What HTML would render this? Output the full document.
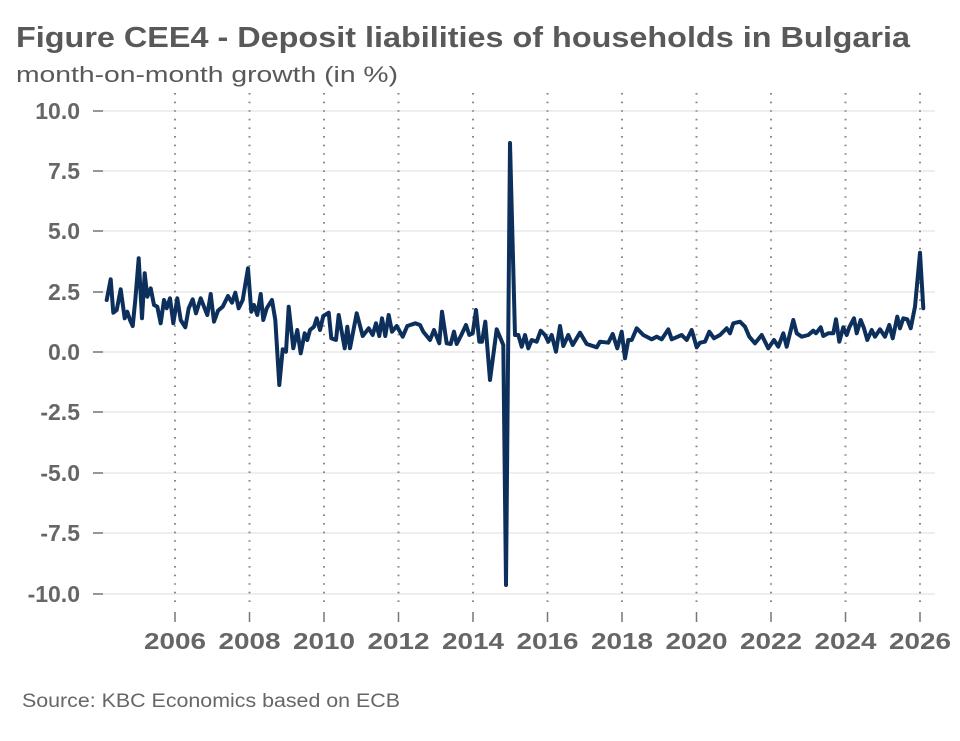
<!DOCTYPE html>
<html><head><meta charset="utf-8"><style>
body{margin:0;background:#fff;}
svg{display:block;font-family:"Liberation Sans",sans-serif;}
</style></head><body>
<svg width="960" height="741" viewBox="0 0 960 741" xmlns="http://www.w3.org/2000/svg">
<text x="16" y="47" font-size="29" font-weight="bold" fill="#595959" textLength="894" lengthAdjust="spacingAndGlyphs">Figure CEE4 - Deposit liabilities of households in Bulgaria</text>
<text x="16" y="82" font-size="22" fill="#595959" textLength="382" lengthAdjust="spacingAndGlyphs">month-on-month growth (in %)</text>
<g stroke="#e3e3e3" stroke-width="1.2">
<line x1="93" x2="935" y1="111" y2="111"/><line x1="93" x2="935" y1="171" y2="171"/><line x1="93" x2="935" y1="231" y2="231"/><line x1="93" x2="935" y1="292" y2="292"/><line x1="93" x2="935" y1="352" y2="352"/><line x1="93" x2="935" y1="412" y2="412"/><line x1="93" x2="935" y1="473" y2="473"/><line x1="93" x2="935" y1="533" y2="533"/><line x1="93" x2="935" y1="594" y2="594"/>
</g>
<g stroke="#777" stroke-width="1.5">
<line x1="93" x2="103" y1="111" y2="111"/><line x1="93" x2="103" y1="171" y2="171"/><line x1="93" x2="103" y1="231" y2="231"/><line x1="93" x2="103" y1="292" y2="292"/><line x1="93" x2="103" y1="352" y2="352"/><line x1="93" x2="103" y1="412" y2="412"/><line x1="93" x2="103" y1="473" y2="473"/><line x1="93" x2="103" y1="533" y2="533"/><line x1="93" x2="103" y1="594" y2="594"/>
</g>
<g font-size="23" font-weight="bold" fill="#666" text-anchor="end">
<text x="80" y="119">10.0</text><text x="80" y="179">7.5</text><text x="80" y="239">5.0</text><text x="80" y="300">2.5</text><text x="80" y="360">0.0</text><text x="80" y="420">-2.5</text><text x="80" y="481">-5.0</text><text x="80" y="541">-7.5</text><text x="80" y="602">-10.0</text>
</g>
<g stroke="#888" stroke-width="2" stroke-dasharray="1.6 7">
<line x1="175" x2="175" y1="93" y2="605"/><line x1="249.5" x2="249.5" y1="93" y2="605"/><line x1="324" x2="324" y1="93" y2="605"/><line x1="398.5" x2="398.5" y1="93" y2="605"/><line x1="473" x2="473" y1="93" y2="605"/><line x1="547.5" x2="547.5" y1="93" y2="605"/><line x1="622" x2="622" y1="93" y2="605"/><line x1="696.5" x2="696.5" y1="93" y2="605"/><line x1="771" x2="771" y1="93" y2="605"/><line x1="845.5" x2="845.5" y1="93" y2="605"/><line x1="920" x2="920" y1="93" y2="605"/>
</g>
<g stroke="#777" stroke-width="1.5">
<line x1="175" x2="175" y1="612" y2="622"/><line x1="249.5" x2="249.5" y1="612" y2="622"/><line x1="324" x2="324" y1="612" y2="622"/><line x1="398.5" x2="398.5" y1="612" y2="622"/><line x1="473" x2="473" y1="612" y2="622"/><line x1="547.5" x2="547.5" y1="612" y2="622"/><line x1="622" x2="622" y1="612" y2="622"/><line x1="696.5" x2="696.5" y1="612" y2="622"/><line x1="771" x2="771" y1="612" y2="622"/><line x1="845.5" x2="845.5" y1="612" y2="622"/><line x1="920" x2="920" y1="612" y2="622"/>
</g>
<g font-size="23" font-weight="bold" fill="#666" text-anchor="middle">
<text x="175" y="649" textLength="62" lengthAdjust="spacingAndGlyphs">2006</text><text x="249.5" y="649" textLength="62" lengthAdjust="spacingAndGlyphs">2008</text><text x="324" y="649" textLength="62" lengthAdjust="spacingAndGlyphs">2010</text><text x="398.5" y="649" textLength="62" lengthAdjust="spacingAndGlyphs">2012</text><text x="473" y="649" textLength="62" lengthAdjust="spacingAndGlyphs">2014</text><text x="547.5" y="649" textLength="62" lengthAdjust="spacingAndGlyphs">2016</text><text x="622" y="649" textLength="62" lengthAdjust="spacingAndGlyphs">2018</text><text x="696.5" y="649" textLength="62" lengthAdjust="spacingAndGlyphs">2020</text><text x="771" y="649" textLength="62" lengthAdjust="spacingAndGlyphs">2022</text><text x="845.5" y="649" textLength="62" lengthAdjust="spacingAndGlyphs">2024</text><text x="920" y="649" textLength="62" lengthAdjust="spacingAndGlyphs">2026</text>
</g>
<text x="22" y="707" font-size="19" fill="#666" textLength="378" lengthAdjust="spacingAndGlyphs">Source: KBC Economics based on ECB</text>
<g fill="none" stroke="#0d2f5c" stroke-width="4" stroke-linejoin="round" stroke-linecap="round">
<polyline points="106.7,300 110.7,279.3 113.3,312.7 116.7,310 120.7,289.3 124.7,318.3 127.3,311.7 130,320 132.7,326 135.3,300 138.7,258.3 142,318.3 144.7,273.3 147.3,296.7 150.7,288.3 154,305 157.3,306.7 160.7,323.3 164,300 166.7,308.3 170,298.3 173.3,323.3 177.3,298.3 180.7,320 185.3,327.3 188.7,308.3 192.7,299.3 196,313.3 200.7,298.3 207.3,315 210.7,294 214,321.7 218,310.7 222.7,306.7 228,296 232,302.7 235.3,292.7 238.7,308.3 242.7,300 248,268.3 251.3,311.7 254,305 257.3,315 260.7,294 263.3,320 266.7,308.3 272,300 275.3,320 279.3,385 282.7,349.3 286,351.7 288.7,306.7 293.3,348.3 297.3,330 300.7,353.3 304.7,333.3 307.3,340 310,330 314,326.7 316.7,318.3 320,330 323.3,316 328.7,312.7 331.3,338.3 336,340 338.7,315 342,333.3 344.7,348.3 347.3,326.7 350,348.3 356.7,313.3 362.7,336 368.7,328.3 372.7,335 376,323.3 379.3,336 382,318.3 385.3,336 388.7,315 392,331.7 396.7,326 402.7,336.7 407.3,326 415.3,323.3 420,325 423.3,331.7 430,340 434,330 439.3,343.3 442,311.7 446.7,343.3 450.7,344 454,331.7 456.7,344 461.3,335 466,325 469.3,335 472.7,333.3 476,310 479.3,341.7 482,341.7 485.3,321.7 490,380 496.7,329.3 503.3,345 506,585 510,143 515,335 518.3,335 521.7,346.7 525,335 528.3,348.3 531.7,340 536.7,341.7 540.7,330.7 545,335 548.3,341.7 551.7,335 556,351.7 560,326 563.3,346 568.3,335 572.7,345 580,332.7 586.7,344 596.7,347.3 600,341.7 608.3,342.7 612.7,334 617.3,348.3 621.7,331.7 625,358.3 628.3,340 631.7,340 636.7,328.3 643.3,335 651.7,339.3 656.7,336.7 661.7,339.3 668.3,329.3 671.7,339.3 681.7,335 686.7,340 691.7,330 696.7,347.3 700,342.7 705,341.7 709.3,331.7 714,338.3 720,335 726.7,328.3 730,333.3 733.3,323.3 740,321.7 745,326.7 749.3,336.7 755,343.3 761.7,335 768.3,348.3 774,340 778.3,346.7 783.3,333.3 786.7,346.7 793.3,320 796.7,333.3 801.7,336.7 808.3,335 813.3,330.7 816,333.3 820.7,327.3 823.3,336 828.3,333.3 833.3,333.3 836,319.3 839.3,341.7 843.3,327.3 846.7,335 849.3,327.3 854,318.3 856.7,333.3 860.7,320 864,328.3 867.3,340 871.7,330 875,336.7 880,329.3 885,336.7 889.3,325 892.7,338.3 897.3,316.7 900,328.3 903.3,318.3 907.3,319.3 910.7,328.3 915,306.7 920,252.7 923.3,308.3"/>
</g>
</svg>
</body></html>
